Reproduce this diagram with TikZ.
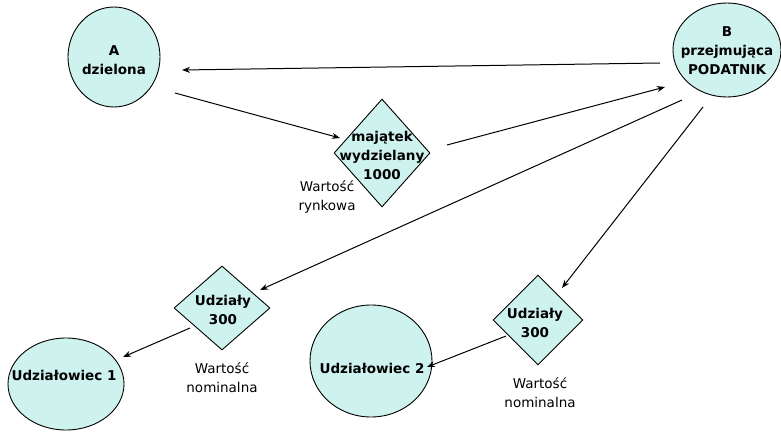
\documentclass[tikz,border=0pt]{standalone}
\usepackage{fontspec}
\setmainfont{DejaVu Sans}
\usetikzlibrary{shapes.geometric,arrows.meta,calc}
\definecolor{fillc}{RGB}{206,242,238}
\begin{document}
\begin{tikzpicture}[x=1pt,y=1pt,
  shp/.style={draw=black, line width=0.9pt, fill=fillc, inner sep=0pt},
  ell/.style={shp, ellipse},
  dia/.style={shp, diamond},
  txt/.style={font=\fontsize{13.5}{19}\selectfont\bfseries, align=center, inner sep=0pt},
  lbl/.style={font=\fontsize{13.5}{19}\selectfont, align=center, inner sep=0pt},
  arr/.style={line width=1pt, -{Stealth[length=8pt,width=6pt]}}]
\useasboundingbox (0,0) rectangle (781,432);
% shapes
\node[ell, minimum width=92, minimum height=100] (A) at (114,375) {};
\node[ell, minimum width=108, minimum height=94] (B) at (727,382) {};
\node[dia, minimum width=96, minimum height=108] (M) at (382,279) {};
\node[dia, minimum width=96, minimum height=84] (D1) at (222,124) {};
\node[dia, minimum width=90, minimum height=90] (D2) at (538,112) {};
\node[ell, minimum width=116, minimum height=92] (U1) at (66,48) {};
\node[ell, minimum width=122, minimum height=112] (U2) at (371,71) {};
% texts
\node[txt] (At) at (114,372) {A\\dzielona};
\node[txt] (Bt) at (727,381) {B\\przejmująca\\PODATNIK};
\node[txt] (Mt) at (382,277) {majątek\\wydzielany\\1000};
\node[txt] (D1t) at (223,122) {Udziały\\300};
\node[txt] (D2t) at (535,109) {Udziały\\300};
\node[txt] (U1t) at (64,57) {Udziałowiec 1};
\node[txt] (U2t) at (372,64) {Udziałowiec 2};
% labels
\node[lbl] (L1) at (327,235) {Wartość\\rynkowa};
\node[lbl] (L2) at (222,54) {Wartość\\nominalna};
\node[lbl] (L3) at (540,39) {Wartość\\nominalna};
% connectors
\draw[arr] ($(B)+(-67,-13)$) -- ($(A)+(68,-13)$);
\draw[arr] ($(A)+(61,-36)$) -- ($(M)+(-42,15)$);
\draw[arr] ($(M)+(65,8)$) -- ($(B)+(-62,-37)$);
\draw[arr] ($(B)+(-45,-50)$) -- ($(D1)+(38,18)$);
\draw[arr] ($(B)+(-24,-57)$) -- ($(D2)+(24,32)$);
\draw[arr] ($(D1)+(-32,-20)$) -- ($(U1)+(57,27)$);
\draw[arr] ($(D2)+(-32,-16)$) -- ($(U2)+(56,-6)$);
\end{tikzpicture}
\end{document}
